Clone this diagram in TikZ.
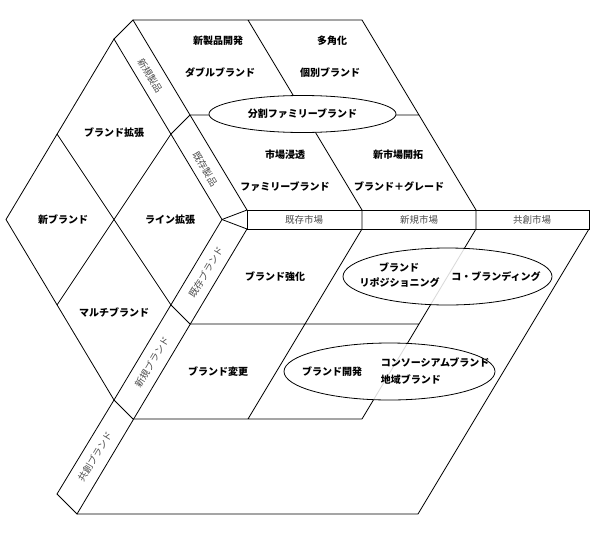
\documentclass[tikz,border=0pt]{standalone}
\usepackage{fontspec}
\setmainfont{Noto Sans CJK JP}
\usetikzlibrary{shapes.geometric}

\begin{document}
\begin{tikzpicture}[x=1pt,y=-1pt,line width=0.8pt,
                    cell/.style={font=\bfseries\fontsize{10}{12}\selectfont,inner sep=0},
                    tag/.style={font=\fontsize{9.5}{11}\selectfont,text=black!70,inner sep=0},
                    oval/.style={ellipse,draw,fill=white,inner sep=0}]

  \useasboundingbox (0,0) rectangle (609,533);

  \coordinate (T) at (114,39);
  \coordinate (L) at (6,219.5);
  \coordinate (B) at (114,400);
  \coordinate (R) at (222,219.5);
  \coordinate (P1) at (57,134);
  \coordinate (P2) at (171,134);
  \coordinate (P3) at (57,305);
  \coordinate (P4) at (171,305);
  \coordinate (Q) at (57,494);

  \coordinate (A0) at (133,20);
  \coordinate (A1) at (190,115);
  \coordinate (A2) at (247,210);
  \coordinate (C0) at (248,20);
  \coordinate (C2) at (362,210);
  \coordinate (D0) at (362,20);
  \coordinate (D1) at (419,115);
  \coordinate (D2) at (476,210);

  \coordinate (F0) at (247,229);
  \coordinate (F1) at (362,229);
  \coordinate (F2) at (476,229);
  \coordinate (F3) at (589,229);

  \coordinate (G1) at (190,324);
  \coordinate (G2) at (133,419);
  \coordinate (G3) at (77,514);
  \coordinate (H1) at (419,324);
  \coordinate (H2) at (362,419);
  \coordinate (K1) at (248,419);
  \coordinate (K3) at (418,514);

  \draw (T) -- (L) -- (B) -- (R) -- cycle;
  \draw (P1) -- (P4) (P2) -- (P3);

  \draw (T) -- (A0) -- (A2) (P2) -- (A1) (R) -- (A2);
  \draw (A0) -- (D0) -- (D2) (C0) -- (C2) (A1) -- (D1);

  \draw (A2) rectangle (F3);
  \draw (C2) -- (F1) (D2) -- (F2) (R) -- (F0);

  \draw (B) -- (Q) -- (G3) -- (F0) (P4) -- (G1) (B) -- (G2);
  \draw (G1) -- (H1) (G2) -- (H2) (F1) -- (K1) (F2) -- (H2);
  \draw (F3) -- (K3) -- (G3);

  \node[oval,minimum width=187,minimum height=37] (split) at (302.5,114)
       [cell] {分割ファミリーブランド};
  \node[oval,minimum width=209,minimum height=57,fill opacity=0.85] (repo) at (447.5,276.5) {};
  \node[oval,minimum width=211,minimum height=57,fill opacity=0.85] (dev) at (389.5,371.5) {};

  \node[cell] (np) at (218,41) {新製品開発};
  \node[cell] (db) at (220,73) {ダブルブランド};
  \node[cell] (dv) at (332,41) {多角化};
  \node[cell] (ib) at (330,73) {個別ブランド};
  \node[cell] (mp) at (285,155) {市場浸透};
  \node[cell] (fb) at (285,187) {ファミリーブランド};
  \node[cell] (nm) at (398,155) {新市場開拓};
  \node[cell] (bg) at (399,187) {ブランド＋グレード};

  \node[cell] (be) at (114,133) {ブランド拡張};
  \node[cell] (nb) at (63,219.5) {新ブランド};
  \node[cell] (le) at (170,219.5) {ライン拡張};
  \node[cell] (mb) at (114,313) {マルチブランド};

  \node[cell] (bs) at (275,277) {ブランド強化};
  \node[cell] (bc) at (218,372) {ブランド変更};
  \node[cell] (rp1) at (399,267) {ブランド};
  \node[cell] (rp2) at (399.5,283) {リポジショニング};
  \node[cell] (cb) at (496,277) {コ・ブランディング};
  \node[cell] (bd) at (332,372) {ブランド開発};
  \node[cell,anchor=west] (cs) at (380.5,362) {コンソーシアムブランド};
  \node[cell,anchor=west] (rb) at (380.5,380) {地域ブランド};

  \node[tag] (em) at (304,219.5) {既存市場};
  \node[tag] (nwm) at (419,219.5) {新規市場};
  \node[tag] (cm) at (532,219.5) {共創市場};

  \node[tag,rotate=-59] (npr) at (150,76) {新規製品};
  \node[tag,rotate=-59] (epr) at (205,169) {既存製品};
  \node[tag,rotate=59] (ebr) at (206,272) {既存ブランド};
  \node[tag,rotate=59] (nbr) at (152,362) {新規ブランド};
  \node[tag,rotate=59] (cbr) at (95,456.5) {共創ブランド};
\end{tikzpicture}
\end{document}
